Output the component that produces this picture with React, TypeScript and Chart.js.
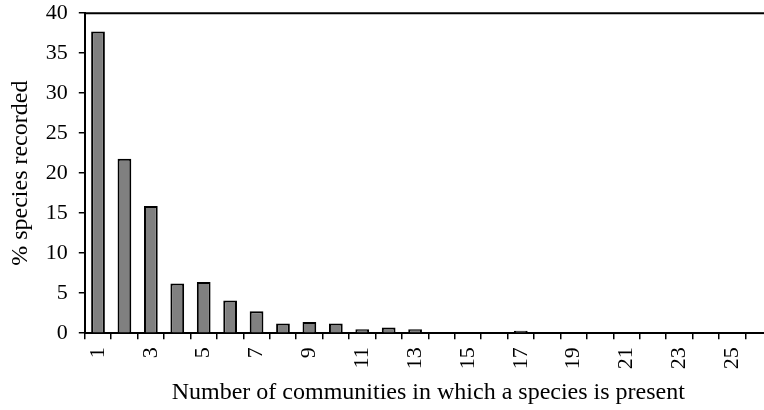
import React, { useEffect, useRef } from "react";
import { Chart, registerables } from "chart.js";

Chart.register(...registerables);

const categories = [
  "1", "2", "3", "4", "5", "6", "7", "8", "9", "10", "11", "12", "13",
  "14", "15", "16", "17", "18", "19", "20", "21", "22", "23", "24", "25", "26",
];
const percentSpecies = [
  37.7, 21.8, 15.9, 6.2, 6.4, 4.1, 2.75, 1.2, 1.4, 1.2, 0.5, 0.7, 0.5,
  0, 0, 0, 0.3, 0, 0, 0, 0, 0, 0, 0, 0, 0,
];
const yTicks = [0, 5, 10, 15, 20, 25, 30, 35, 40];

const FONT = "'Liberation Serif', 'Times New Roman', serif";

const topBorder = {
  id: "topBorder",
  afterDraw(chart: any) {
    const { ctx, chartArea } = chart;
    ctx.save();
    ctx.strokeStyle = "#000";
    ctx.lineWidth = 2;
    ctx.beginPath();
    ctx.moveTo(chartArea.left, chartArea.top);
    ctx.lineTo(chartArea.right + 30, chartArea.top);
    ctx.stroke();
    ctx.restore();
  },
};

export default function App() {
  const ref = useRef<HTMLCanvasElement>(null);
  useEffect(() => {
    if (!ref.current) return;
    const chart = new Chart(ref.current, {
      type: "bar",
      data: {
        labels: categories,
        datasets: [
          {
            data: percentSpecies,
            backgroundColor: "#808080",
            borderColor: "#000",
            borderWidth: 2,
            barPercentage: 0.52,
            categoryPercentage: 1,
          },
        ],
      },
      options: {
        responsive: false,
        animation: false,
        layout: { padding: { left: 0, top: 0, right: 0, bottom: 0 } },
        plugins: { legend: { display: false }, tooltip: { enabled: false } },
        scales: {
          x: {
            grid: {
              offset: true,
              drawOnChartArea: false,
              drawTicks: true,
              tickLength: 6,
              color: "#000",
              lineWidth: 1.5,
            },
            border: { color: "#000", width: 2 },
            ticks: {
              autoSkip: false,
              minRotation: 90,
              maxRotation: 90,
              padding: 8,
              color: "#000",
              font: { family: FONT, size: 22 },
              callback: (_v: any, i: number) => (i % 2 === 0 ? categories[i] : ""),
            },
            title: {
              display: true,
              text: "Number of communities in which a species is present",
              color: "#000",
              font: { family: FONT, size: 24 },
              padding: { top: 1, bottom: 3 },
            },
          },
          y: {
            min: 0,
            max: 40,
            afterBuildTicks: (axis: any) => {
              axis.ticks = yTicks.map((v) => ({ value: v }));
            },
            grid: {
              drawOnChartArea: false,
              tickLength: 6,
              color: "#000",
              lineWidth: 1.5,
            },
            border: { color: "#000", width: 2 },
            ticks: {
              padding: 11,
              color: "#000",
              font: { family: FONT, size: 22 },
            },
            title: {
              display: true,
              text: "% species recorded",
              color: "#000",
              font: { family: FONT, size: 24 },
              padding: { top: 7, bottom: 0 },
            },
          },
        },
      },
      plugins: [topBorder],
    });
    return () => chart.destroy();
  }, []);
  return (
    <div
      style={{
        position: "fixed",
        left: 0,
        top: 0,
        width: 764,
        height: 410,
        overflow: "hidden",
        background: "#fff",
      }}
    >
      <canvas
        ref={ref}
        width={794}
        height={421}
        style={{ display: "block", position: "absolute", left: -1, top: -11 }}
      />
    </div>
  );
}
